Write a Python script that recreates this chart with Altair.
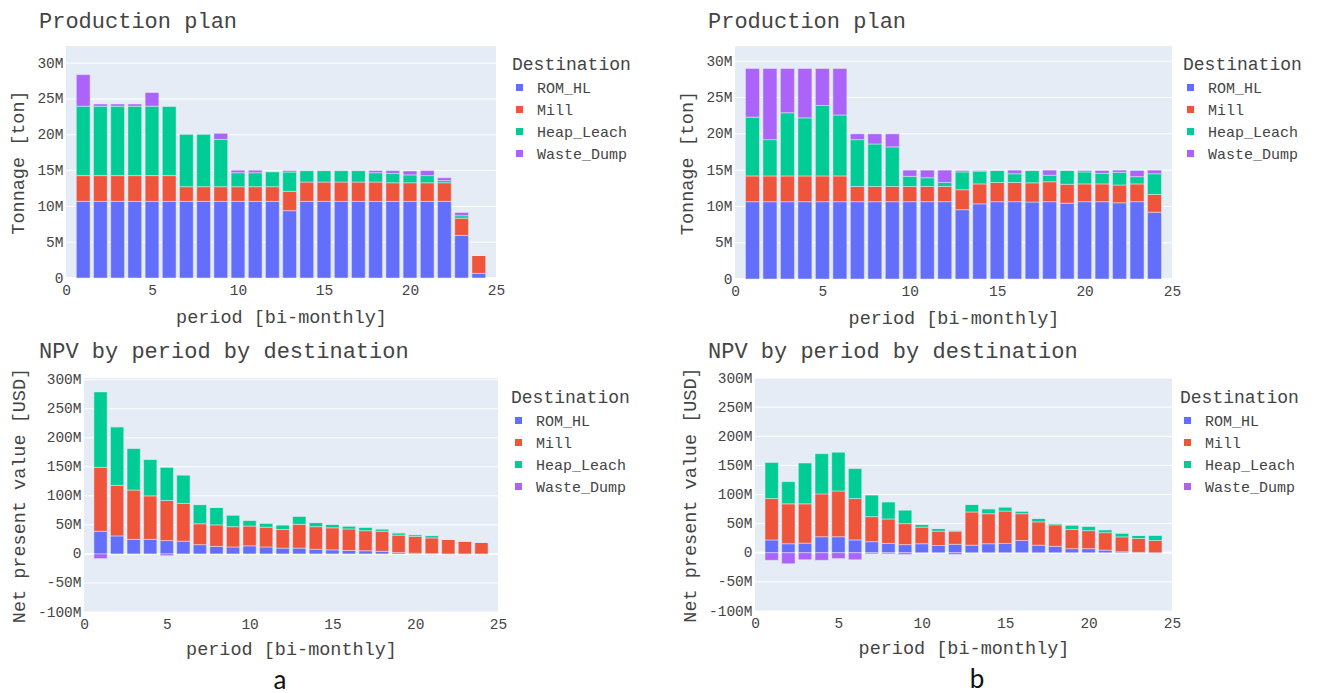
import altair as alt
import pandas as pd

periods = list(range(1, 25))
destinations = ["ROM_HL", "Mill", "Heap_Leach", "Waste_Dump"]
colors = ["#636EFA", "#EF553B", "#00CC96", "#AB63FA"]

# ---- (a) Production plan, million tons ----
prod_a_rom = [10.7, 10.7, 10.7, 10.7, 10.7, 10.7, 10.7, 10.7, 10.7, 10.7, 10.7, 10.7,
              9.4, 10.7, 10.7, 10.7, 10.7, 10.7, 10.7, 10.7, 10.7, 10.7, 5.95, 0.65]
prod_a_mill = [3.6, 3.6, 3.6, 3.6, 3.6, 3.6, 2.05, 2.05, 2.05, 2.05, 2.05, 2.05,
               2.7, 2.7, 2.7, 2.7, 2.7, 2.7, 2.6, 2.6, 2.6, 2.6, 2.4, 2.5]
prod_a_heap = [9.7, 9.7, 9.7, 9.7, 9.7, 9.7, 7.35, 7.35, 6.6, 1.95, 1.95, 2.1,
               2.7, 1.6, 1.6, 1.6, 1.6, 1.3, 1.3, 1.1, 1.0, 0.3, 0.35, 0.0]
prod_a_waste = [4.4, 0.3, 0.3, 0.3, 1.9, 0.0, 0.0, 0.0, 0.85, 0.35, 0.35, 0.0,
                0.2, 0.0, 0.0, 0.0, 0.0, 0.3, 0.4, 0.55, 0.7, 0.4, 0.45, 0.0]

# ---- (b) Production plan, million tons ----
prod_b_rom = [10.65, 10.65, 10.65, 10.65, 10.65, 10.65, 10.65, 10.65, 10.65, 10.65, 10.65, 10.65,
              9.55, 10.35, 10.65, 10.65, 10.6, 10.65, 10.45, 10.65, 10.65, 10.5, 10.65, 9.2]
prod_b_mill = [3.55, 3.55, 3.55, 3.55, 3.55, 3.55, 2.1, 2.1, 2.1, 2.1, 2.1, 2.1,
               2.75, 2.75, 2.65, 2.65, 2.65, 2.75, 2.6, 2.45, 2.45, 2.45, 2.45, 2.45]
prod_b_heap = [8.1, 5.0, 8.7, 8.0, 9.7, 8.4, 6.45, 5.85, 5.45, 1.4, 1.2, 0.55,
               2.45, 1.75, 1.65, 1.2, 1.7, 0.9, 1.9, 1.65, 1.45, 1.75, 1.0, 2.85]
prod_b_waste = [6.7, 9.8, 6.1, 6.8, 5.1, 6.4, 0.8, 1.4, 1.8, 0.85, 1.05, 1.7,
                0.2, 0.1, 0.0, 0.5, 0.0, 0.7, 0.0, 0.2, 0.4, 0.3, 0.85, 0.5]

# ---- (a) NPV, million USD ----
npv_a_rom = [39, 31, 25, 25, 23, 22, 16, 13, 12, 14, 12, 10,
             10, 8, 7, 6, 5.5, 4.5, 2.3, 1.2, 0.6, 0, 0, 0]
npv_a_mill = [110, 87, 85, 75, 69, 65, 36, 37, 35, 34, 34, 32,
              41, 39, 38, 37, 34.5, 34.5, 30, 29, 27, 25, 22, 20]
npv_a_heap = [130, 101, 72, 63, 57, 49, 33, 30, 20, 10, 7, 8,
              14, 7, 6, 5, 6, 4, 4, 3, 4, 0, 0, 0]
npv_a_waste = [-8, 0, 0, 0, -3, 0, 0, 0, 0, 0, 0, 0,
               0, 0, 0, 0, 0, 0, 0, 0, 0, 0, 0, 0]

# ---- (b) NPV, million USD ----
npv_b_rom = [22, 15.5, 16.5, 27.5, 27.5, 22, 19, 16, 14, 15.5, 12.5, 14.5,
             13, 15.5, 16, 21, 13, 11, 7, 7, 4.5, 1.7, 0.6, 0]
npv_b_mill = [71, 68.5, 67.5, 73.5, 78.5, 71, 43, 42, 36, 28.5, 24.5, 22.5,
              57, 51.5, 55.5, 46, 40, 37, 33, 31, 30, 25.5, 24, 21]
npv_b_heap = [62, 38, 70, 69, 66.5, 51.5, 37, 29, 23, 4.5, 4.5, 1,
              13, 8.5, 7, 4.5, 6, 2, 7.5, 7.5, 5, 6.5, 5, 9]
npv_b_waste = [-13, -19, -12, -13, -10, -12, -2, -2, -3, 0, 0, -3,
               0, 0, 0, 0, 0, 0, 0, 0, 0, 0, 0, 0]

x_ticks = [0, 5, 10, 15, 20, 25]
prod_ticks = [0, 5, 10, 15, 20, 25, 30]
npv_ticks = [-100, -50, 0, 50, 100, 150, 200, 250, 300]
panel_tags = ["a", "b"]

FONT = "Liberation Mono"
TXT = "#444444"
BG = "#E5ECF6"


def long_df(series):
    rows = []
    for rank, (dest, vals) in enumerate(zip(destinations, series)):
        for p, v in zip(periods, vals):
            rows.append({"period": p, "Destination": dest, "rank": rank, "value": v})
    return pd.DataFrame(rows)


def panel(df, title, title_dx, title_offset, ytitle, ydomain, yticks, width, height, shift,
          leg_dx, leg_dy, x_title_pad, tag=None, tag_x=0):
    # shift < 0 : the plot area starts left of the grid column origin
    xs = alt.Scale(domain=[0, 25], range=[shift, width], nice=False, zero=False)
    ys = alt.Scale(domain=ydomain, nice=False, zero=False)
    xa = alt.Axis(
        values=x_ticks, title="period [bi-monthly]", grid=False,
        labelFlush=False, labelOverlap=False, labelPadding=5, titlePadding=x_title_pad,
        titleX=(shift + width) / 2,
    )
    ya = alt.Axis(
        values=yticks, title=ytitle, grid=False, offset=-shift,
        labelExpr="datum.value == 0 ? '0' : datum.value + 'M'",
        labelFlush=False, labelOverlap=False, labelPadding=3, titlePadding=9,
    )

    bg = alt.Chart(pd.DataFrame({"k": [0]})).mark_rect(color=BG).encode(
        x=alt.X(datum=0, scale=xs, axis=xa),
        x2=alt.X2(datum=25),
        y=alt.Y(datum=ydomain[0], scale=ys, axis=ya),
        y2=alt.Y2(datum=ydomain[1]),
    )
    grid = alt.Chart(pd.DataFrame({"v": yticks})).mark_rule(color="white").encode(
        y=alt.Y("v:Q", scale=ys, axis=ya),
        x=alt.X(datum=0, scale=xs, axis=xa),
        x2=alt.X2(datum=25),
        strokeWidth=alt.condition("datum.v == 0", alt.value(2), alt.value(1)),
    )
    bars = (
        alt.Chart(df)
        .transform_stack(
            stack="value", groupby=["period"], as_=["y0", "y1"],
            sort=[alt.SortField("rank", order="ascending")], offset="zero",
        )
        .transform_calculate(x0="datum.period - 0.4", x1="datum.period + 0.4")
        .mark_bar(stroke=BG, strokeWidth=0.5)
        .encode(
            x=alt.X("x0:Q", scale=xs, axis=xa),
            x2="x1:Q",
            y=alt.Y("y0:Q", scale=ys, axis=ya),
            y2="y1:Q",
            color=alt.Color(
                "Destination:N",
                scale=alt.Scale(domain=destinations, range=colors),
                legend=alt.Legend(
                    title="Destination", orient="none", legendX=width + leg_dx, legendY=leg_dy,
                    titleFont=FONT, titleFontSize=18, titleFontWeight="normal", titleColor=TXT,
                    labelFont=FONT, labelFontSize=15, labelColor=TXT,
                    symbolType="square", symbolSize=50, symbolStrokeWidth=0,
                    rowPadding=6, titlePadding=6, labelOffset=10, padding=0,
                ),
            ),
            order=alt.Order("rank:Q", sort="ascending"),
        )
    )
    layers = [bg, grid, bars]
    if tag is not None:
        layers.append(
            alt.Chart(pd.DataFrame({"t": [tag]}))
            .mark_text(font="Lato", fontSize=26, color="#111111", baseline="alphabetic")
            .encode(text="t:N", x=alt.value(tag_x), y=alt.value(height + 77))
        )
    return alt.layer(
        *layers,
        title=alt.TitleParams(
            title, anchor="start", frame="group", dx=title_dx, offset=title_offset,
            fontSize=22, font=FONT, fontWeight="normal", color=TXT,
        ),
    ).properties(width=width, height=height)


tl = panel(long_df([prod_a_rom, prod_a_mill, prod_a_heap, prod_a_waste]),
           "Production plan", -45, 13, "Tonnage [ton]", [0, 32.4], prod_ticks,
           412, 232, -18, 16, 10, 11)
tr = panel(long_df([prod_b_rom, prod_b_mill, prod_b_heap, prod_b_waste]),
           "Production plan", -47, 13, "Tonnage [ton]", [0, 32.1], prod_ticks,
           417, 233, -20, 11, 10, 11)
bl = panel(long_df([npv_a_rom, npv_a_mill, npv_a_heap, npv_a_waste]),
           "NPV by period by destination", -45, 4, "Net present value [USD]", [-100, 303], npv_ticks,
           414, 234, 0, 13, 11, 9, panel_tags[0], 196)
br = panel(long_df([npv_b_rom, npv_b_mill, npv_b_heap, npv_b_waste]),
           "NPV by period by destination", -47, 4, "Net present value [USD]", [-100, 300], npv_ticks,
           417, 233, 0, 8, 11, 9, panel_tags[1], 222)

chart = (
    alt.concat(tl, tr, bl, br, columns=2, spacing={"row": 12, "column": 46})
    .resolve_scale(color="independent", x="independent", y="independent")
    .resolve_legend(color="independent")
    .configure_axis(
        domain=False, ticks=False,
        labelFont=FONT, labelFontSize=14.5, labelColor=TXT,
        titleFont=FONT, titleFontSize=18.5, titleFontWeight="normal", titleColor=TXT,
    )
    .configure_view(strokeWidth=0)
    .properties(padding={"left": 0, "top": 2, "right": 2, "bottom": 0}, background="white")
)

chart.save("out.html", embed_options={"renderer": "svg", "actions": False})
